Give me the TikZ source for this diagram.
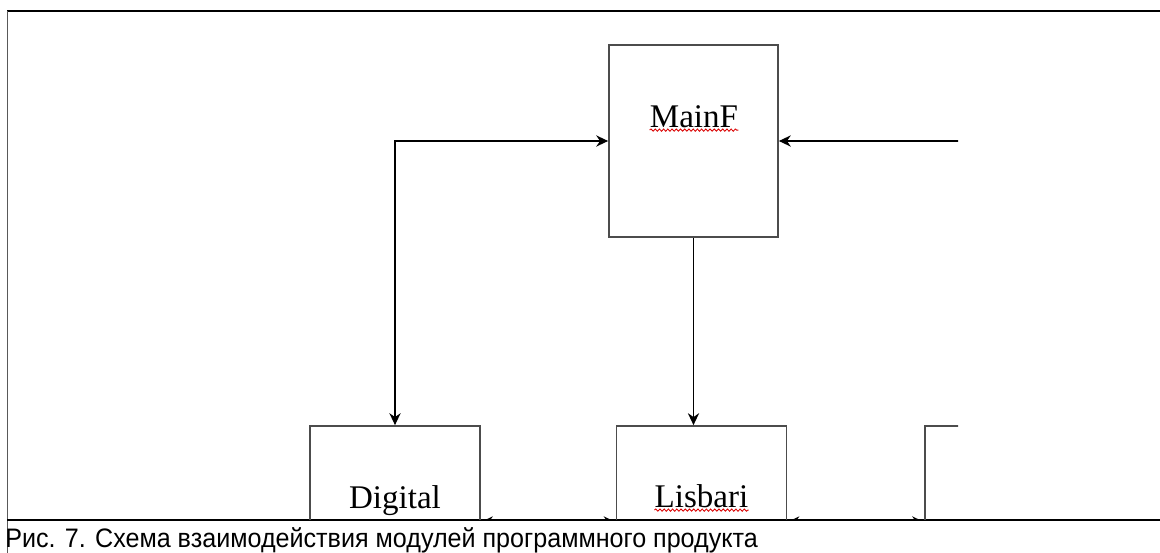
\documentclass[tikz,border=0pt]{standalone}
\usepackage{fontspec}
\setmainfont{Liberation Serif}
\newfontfamily\capfont{Liberation Sans}
\usetikzlibrary{arrows.meta, decorations.pathmorphing}

\tikzset{
  modbox/.style={draw=black!70, line width=1.2pt, minimum width=4.25cm, minimum height=4.8cm, inner sep=0pt},
  lbl/.style={font=\fontsize{23.5}{28}\selectfont, inner sep=0pt, anchor=base},
  link/.style={draw, line width=0.9pt},
  spell/.style={red!85!black, line width=0.6pt, decorate, decoration={snake, amplitude=0.8pt, segment length=3pt}}
}

\begin{document}
\begin{tikzpicture}[x=0.025cm, y=-0.025cm, >={Stealth[length=8.5pt, width=8pt]}]
\useasboundingbox (0,0) rectangle (1160,553);

% table rules
\draw[line width=1.5pt] (7,11) -- (1160,11);
\draw[black!65, line width=1.4pt] (7.5,11) -- (7.5,553);
\draw[line width=1.2pt] (7,520) -- (1160,520);

\begin{scope}
\clip (8,12) rectangle (958,519.3);

% modules
\node[modbox, minimum width=4.225cm] (main) at (693.5,141) {};
\node[modbox] (dig) at (395,522) {};
\node[modbox] (lisb) at (701.5,522) {};
\node[modbox] (next) at (1010,522) {};

% names
\node[lbl] (mainT) at (694,127) {MainF};
\node[lbl] (digT) at (395,508) {Digital};
\node[lbl] (lisbT) at (701.5,507) {Lisbari};
\draw[spell] ([yshift=-2.2pt]mainT.base west) -- ([yshift=-2.2pt]mainT.base east);
\draw[spell] ([yshift=-2.2pt]lisbT.base west) -- ([yshift=-2.2pt]lisbT.base east);

% links
\coordinate (rin) at (1000,141);
\draw[link, <->] (main.west) -| (dig.north);
\draw[link, ->] (rin) -- (main.east);
\draw[link, ->] (main.south) -- (main.south |- lisb.north);
\draw[link, <->] (dig.east) -- (lisb.west);
\draw[link, <->] (lisb.east) -- (next.west);
\end{scope}

% caption
\node[font=\capfont\fontsize{19}{22}\selectfont, xscale=0.94, anchor=base west, inner sep=0pt] (cap) at (5,547) {Рис. 7. Схема взаимодействия модулей программного продукта};
\end{tikzpicture}
\end{document}
